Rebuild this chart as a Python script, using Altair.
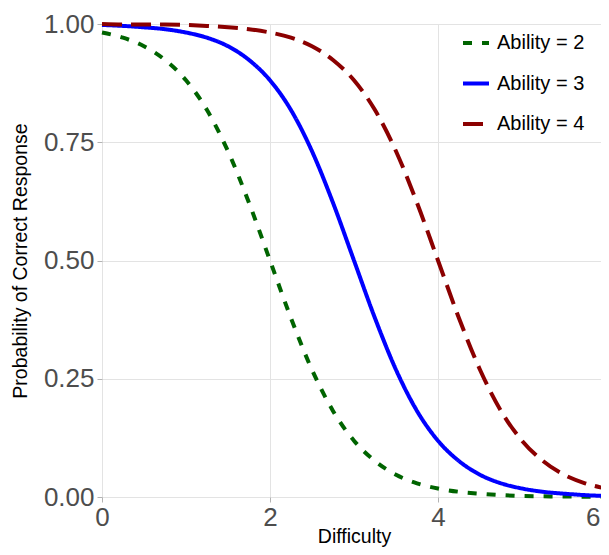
import altair as alt
import pandas as pd

difficulty = [0, 0.25, 0.5, 0.75, 1, 1.25, 1.5, 1.75, 2, 2.25, 2.5, 2.75, 3,
              3.25, 3.5, 3.75, 4, 4.25, 4.5, 4.75, 5, 5.25, 5.5, 5.75, 6]
p_ability2 = [0.982, 0.971, 0.953, 0.924, 0.881, 0.818, 0.731, 0.622, 0.500,
              0.378, 0.269, 0.182, 0.119, 0.076, 0.047, 0.029, 0.018, 0.011,
              0.007, 0.004, 0.002, 0.0015, 0.001, 0.0006, 0.0003]
p_ability3 = [0.998, 0.996, 0.993, 0.989, 0.982, 0.971, 0.953, 0.924, 0.881,
              0.818, 0.731, 0.622, 0.500, 0.378, 0.269, 0.182, 0.119, 0.076,
              0.047, 0.029, 0.018, 0.011, 0.007, 0.004, 0.002]
p_ability4 = [1.000, 0.999, 0.999, 0.999, 0.998, 0.996, 0.993, 0.989, 0.982,
              0.971, 0.953, 0.924, 0.881, 0.818, 0.731, 0.622, 0.500, 0.378,
              0.269, 0.182, 0.119, 0.076, 0.047, 0.029, 0.018]
series = ["Ability = 2", "Ability = 3", "Ability = 4"]
colors = ["#006400", "#0000FF", "#8B0000"]
dashes = [[9, 10], [1, 0], [20, 9]]
x_ticks = [0, 2, 4, 6]
y_ticks = [0, 0.25, 0.5, 0.75, 1.0]

rows = []
for name, vals in zip(series, [p_ability2, p_ability3, p_ability4]):
    for d, p in zip(difficulty, vals):
        rows.append({"Difficulty": d, "P": p, "Series": name})
df = pd.DataFrame(rows)

chart = alt.Chart(df).mark_line(strokeWidth=4, interpolate="monotone", clip=False).encode(
    x=alt.X("Difficulty:Q",
            scale=alt.Scale(domain=[0, 6], nice=False, zero=False),
            axis=alt.Axis(
                values=x_ticks, title="Difficulty", format="d",
                labelAlign={"condition": {"test": "datum.value == 6", "value": "right"},
                            "value": "center"},
                labelOffset={"condition": {"test": "datum.value == 6", "value": -6},
                             "value": 0},
            )),
    y=alt.Y("P:Q",
            scale=alt.Scale(domain=[0, 1], nice=False),
            axis=alt.Axis(values=y_ticks, format=".2f",
                          title="Probability of Correct Response")),
    color=alt.Color("Series:N", scale=alt.Scale(domain=series, range=colors),
                    sort=series, title=None),
    strokeDash=alt.StrokeDash("Series:N", scale=alt.Scale(domain=series, range=dashes),
                              sort=series, title=None),
    detail="Series:N",
).properties(
    width=504,
    height=473,
    autosize=alt.AutoSizeParams(type="none"),
    padding={"left": 94, "top": 16, "right": -5, "bottom": 50},
).configure_view(
    stroke=None
).configure_axis(
    grid=True,
    gridColor="#E3E3E3",
    gridWidth=1,
    domain=False,
    tickColor="#B3B3B3",
    tickSize=5,
    labelFont="Liberation Sans",
    labelFontSize=26,
    labelColor="#4D4D4D",
    titleFont="Liberation Sans",
    titleFontSize=19.5,
    titleFontWeight="normal",
    titleColor="#000000",
).configure_axisY(
    labelPadding=3,
    titlePadding=13,
).configure_axisX(
    labelPadding=2,
    titleY=49,
    titleBaseline="bottom",
    labelFlush=False,
).configure_legend(
    orient="none",
    legendX=359,
    legendY=4,
    symbolType="stroke",
    symbolSize=676,
    symbolStrokeWidth=4,
    labelFont="Liberation Sans",
    labelFontSize=20,
    labelColor="#000000",
    labelOffset=6,
    rowPadding=15.5,
)

chart.save("out.html", embed_options={"renderer": "svg", "actions": False})
